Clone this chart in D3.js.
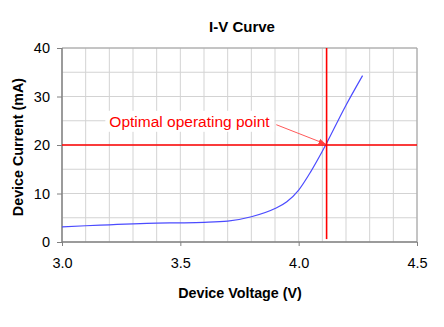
<!DOCTYPE html>
<html>
<head>
<meta charset="utf-8">
<script src="https://cdn.jsdelivr.net/npm/d3@7"></script>
<style>
  html, body { margin: 0; padding: 0; background: #fff; }
  svg { display: block; font-family: Arial, "Liberation Sans", sans-serif; }
</style>
</head>
<body>
<svg id="chart" width="444" height="327"></svg>
<script>
// Measured I-V characteristic of the device
const voltage = [3.0, 3.1, 3.2, 3.3, 3.4, 3.5, 3.6, 3.7, 3.8, 3.9, 3.95, 4.0, 4.05, 4.1, 4.2, 4.27];
const current = [3.1, 3.35, 3.55, 3.75, 3.9, 3.95, 4.05, 4.3, 5.2, 6.9, 8.3, 10.7, 14.4, 18.7, 28.2, 34.3];

// Operating point
const opVoltage = 4.118;
const opCurrent = 20;
const opLabel = "Optimal operating point";

// Axis ticks
const xTicks = [3.0, 3.5, 4.0, 4.5];
const yTicks = [0, 10, 20, 30, 40];
const xGrid = d3.range(30, 46).map(d => d / 10);
const yGrid = [0, 5, 10, 15, 20, 25, 30, 35, 40];

const svg = d3.select("#chart");
const margin = { left: 62, right: 27, top: 48, bottom: 85 };
const W = 444, H = 327;

const x = d3.scaleLinear().domain([3.0, 4.5]).range([margin.left, W - margin.right]);
const y = d3.scaleLinear().domain([0, 40]).range([H - margin.bottom, margin.top]);

// Grid
svg.append("g").selectAll("line").data(xGrid).join("line")
  .attr("x1", d => x(d)).attr("x2", d => x(d))
  .attr("y1", y(0)).attr("y2", y(40))
  .attr("stroke", "#d3d3d3").attr("stroke-width", 1);
svg.append("g").selectAll("line").data(yGrid).join("line")
  .attr("x1", x(3.0)).attr("x2", x(4.5))
  .attr("y1", d => y(d)).attr("y2", d => y(d))
  .attr("stroke", "#d3d3d3").attr("stroke-width", 1);

// Plot frame (top and right)
svg.append("path")
  .attr("d", `M${x(3.0)},${y(40)}H${x(4.5)}V${y(0)}`)
  .attr("fill", "none").attr("stroke", "#a0a0a0").attr("stroke-width", 1);

// Axes
const xAxis = d3.axisBottom(x).tickValues(xTicks).tickFormat(d3.format(".1f")).tickSize(4).tickPadding(12);
const yAxis = d3.axisLeft(y).tickValues(yTicks).tickFormat(d3.format("d")).tickSize(5).tickPadding(7);

const gx = svg.append("g").attr("transform", `translate(0,${y(0)})`).call(xAxis);
const gy = svg.append("g").attr("transform", `translate(${x(3.0)},0)`).call(yAxis);
[gx, gy].forEach(g => {
  g.select(".domain").attr("stroke", "#808080").attr("stroke-width", 1.5);
  g.selectAll(".tick line").attr("stroke", "#808080");
  g.selectAll(".tick text").attr("fill", "#000").style("font-size", "14.5px")
    .style("font-family", "Arial, 'Liberation Sans', sans-serif");
});
gy.select(".domain").attr("d", `M0,${y(0) + 0.5}V${y(40)}`);
gx.select(".domain").attr("d", `M${x(3.0)},0H${x(4.5)}`);

// Curve
const line = d3.line()
  .x((d, i) => x(voltage[i]))
  .y((d, i) => y(current[i]))
  .curve(d3.curveMonotoneX);
svg.append("path").datum(current)
  .attr("d", line).attr("fill", "none")
  .attr("stroke", "#4b4bff").attr("stroke-width", 1.2);

// Operating point cross-hairs
svg.append("line")
  .attr("x1", x(3.0)).attr("x2", x(4.5))
  .attr("y1", y(opCurrent)).attr("y2", y(opCurrent))
  .attr("stroke", "#ff0000").attr("stroke-width", 1.6);
svg.append("line")
  .attr("x1", x(opVoltage)).attr("x2", x(opVoltage))
  .attr("y1", y(0.6)).attr("y2", y(40))
  .attr("stroke", "#ff0000").attr("stroke-width", 1.6);

// Annotation label with white backing
const lx = x(3.2), ly = y(24.6);
const labelBg = svg.append("rect").attr("fill", "#fff");
const label = svg.append("text")
  .attr("x", lx).attr("y", ly)
  .attr("dominant-baseline", "middle")
  .attr("fill", "#ff0000").style("font-size", "15.5px")
  .text(opLabel);
const bb = label.node().getBBox();
labelBg
  .attr("x", bb.x - 4).attr("y", bb.y - 2)
  .attr("width", bb.width + 8).attr("height", bb.height + 4);

// Arrow to the operating point
svg.append("defs").append("marker")
  .attr("id", "arrow").attr("viewBox", "0 0 10 10")
  .attr("refX", 10).attr("refY", 5)
  .attr("markerWidth", 7).attr("markerHeight", 7)
  .attr("orient", "auto-start-reverse")
  .append("path").attr("d", "M0,1L10,5L0,9Z").attr("fill", "#ff4040");
svg.append("line")
  .attr("x1", bb.x + bb.width + 6).attr("y1", ly + 2)
  .attr("x2", x(opVoltage) - 1).attr("y2", y(opCurrent) - 1)
  .attr("stroke", "#ff5a5a").attr("stroke-width", 1)
  .attr("marker-end", "url(#arrow)");

// Titles
svg.append("text")
  .attr("x", 242).attr("y", 32).attr("text-anchor", "middle")
  .style("font-size", "15px").style("font-weight", "bold")
  .text("I-V Curve");
svg.append("text")
  .attr("x", 240).attr("y", 298).attr("text-anchor", "middle")
  .style("font-size", "14.3px").style("font-weight", "bold")
  .text("Device Voltage (V)");
svg.append("text")
  .attr("transform", `translate(23,${(y(0) + y(40)) / 2 + 2}) rotate(-90)`)
  .attr("text-anchor", "middle")
  .style("font-size", "14.3px").style("font-weight", "bold")
  .text("Device Current (mA)");
</script>
</body>
</html>
